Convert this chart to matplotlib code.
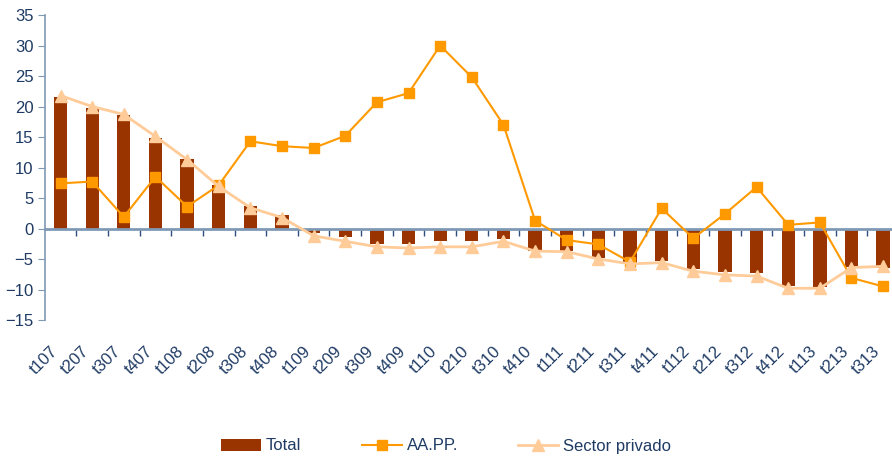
import matplotlib.pyplot as plt
import numpy as np

plt.rcParams['font.family'] = ['Liberation Sans', 'DejaVu Sans']

# quarters
periodos = ["t107", "t207", "t307", "t407", "t108", "t208", "t308", "t408",
            "t109", "t209", "t309", "t409", "t110", "t210", "t310", "t410",
            "t111", "t211", "t311", "t411", "t112", "t212", "t312", "t412",
            "t113", "t213", "t313"]

total = [21.6, 19.8, 18.6, 14.8, 11.4, 7.1, 3.7, 2.2,
         -0.8, -1.4, -2.6, -2.6, -2.1, -2.1, -1.8, -3.7,
         -3.7, -4.9, -5.6, -5.3, -6.7, -7.1, -7.3, -9.4,
         -9.6, -6.3, -6.4]

aapp = [7.4, 7.7, 1.9, 8.5, 3.6, 7.1, 14.3, 13.5,
        13.2, 15.2, 20.7, 22.2, 30.0, 24.8, 17.0, 1.3,
        -1.9, -2.6, -5.5, 3.3, -1.6, 2.4, 6.8, 0.6,
        1.0, -8.1, -9.5]

privado = [21.8, 20.0, 18.7, 15.1, 11.3, 6.9, 3.4, 1.8,
           -1.2, -2.1, -3.0, -3.2, -3.0, -3.0, -2.1, -3.7,
           -3.8, -5.0, -5.8, -5.6, -7.0, -7.6, -7.8, -9.8,
           -9.8, -6.4, -6.2]

texto = "#1F3B64"
eje = "#7F99B5"

fig = plt.figure(figsize=(8.92, 4.58), dpi=100)
ax = fig.add_axes([0.0501, 0.3013, 0.9577, 0.6659])

x = np.arange(len(periodos))
barras = ax.bar(x, total, width=0.42, color="#993300", label="Total", zorder=2)
l1, = ax.plot(x, aapp, color="#FF9900", lw=1.5, marker="s", markersize=7,
              label="AA.PP.", zorder=3)
l2, = ax.plot(x, privado, color="#FFCC99", lw=2, marker="^", markersize=8,
              label="Sector privado", zorder=4)

ax.set_xlim(-0.5, len(periodos) - 0.5)
ax.set_ylim(-15, 35)
ax.set_yticks(np.arange(-15, 36, 5))

for s in ["top", "right"]:
    ax.spines[s].set_visible(False)
ax.spines["left"].set_color(eje)
ax.spines["left"].set_linewidth(1.2)
ax.spines["bottom"].set_position(("data", 0))
ax.spines["bottom"].set_color(eje)
ax.spines["bottom"].set_linewidth(2)

ax.tick_params(axis="y", direction="out", length=5, color=eje,
               labelsize=12, labelcolor=texto, pad=3)

# category labels sit below the plot, boundary ticks hang off the zero line
ax.set_xticks(x)
ax.set_xticklabels(periodos, rotation=45, ha="right", va="top")
ax.set_xticks(np.arange(0.5, len(periodos), 1), minor=True)
ax.tick_params(axis="x", which="major", length=0, pad=83,
               labelsize=12, labelcolor=texto)
ax.tick_params(axis="x", which="minor", direction="out", length=5,
               color="#2F4F7F", width=1)

fig.legend([barras, l1, l2], ["Total", "AA.PP.", "Sector privado"],
           loc="center", bbox_to_anchor=(0.5, 1 - 446 / 458), ncol=3,
           frameon=False, fontsize=12, handlelength=2.4, columnspacing=3.6,
           handletextpad=0.3, labelcolor=texto)

fig.savefig("out.png", dpi=100)
